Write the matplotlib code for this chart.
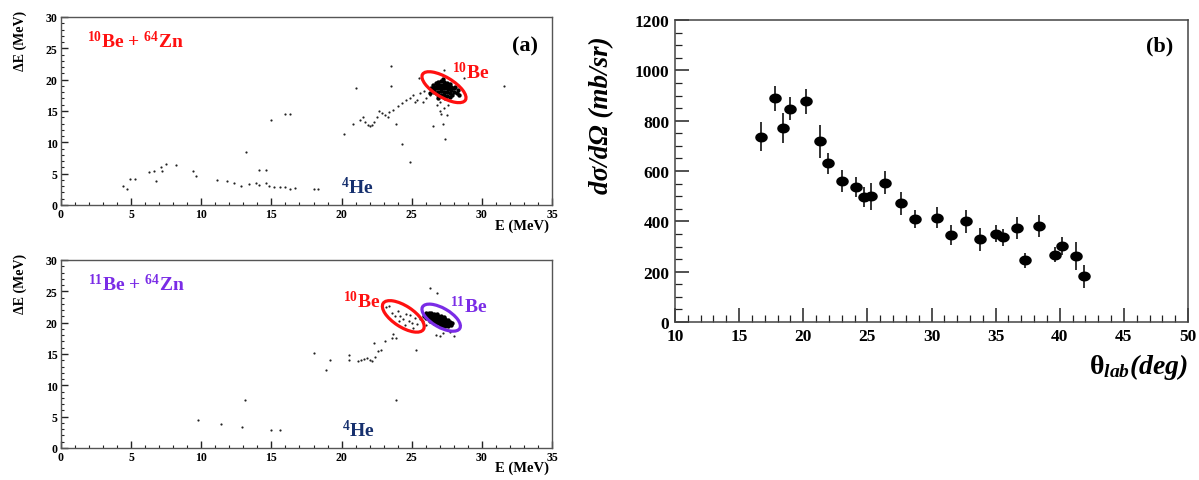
import numpy as np
import matplotlib
matplotlib.use("Agg")
import matplotlib.pyplot as plt
from matplotlib.patches import Ellipse
from matplotlib.path import Path
from matplotlib.transforms import ScaledTranslation
from matplotlib.ticker import MultipleLocator

plt.rcParams['font.family'] = ['Liberation Serif', 'DejaVu Serif']
plt.rcParams['font.weight'] = 'bold'
plt.rcParams['mathtext.default'] = 'regular'
plt.rcParams['mathtext.fontset'] = 'custom'
plt.rcParams['mathtext.rm'] = 'Liberation Serif'

# ---------------- data ----------------
# (a) top: 10Be + 64Zn, sparse events (E, dE) in MeV
top_sparse = [(4.4,3.0),(4.7,2.5),(4.9,4.1),(5.3,4.2),(6.3,5.3),(6.6,5.5),(6.8,3.9),(7.1,6.1),(7.2,5.4),(7.5,6.6),
              (8.2,6.4),(9.4,5.4),(9.6,4.7),(11.1,4.0),(11.8,3.9),(12.3,3.5),(12.8,3.0),(13.2,8.4),(13.4,3.4),(13.9,3.5),
              (14.1,5.6),(14.1,3.2),(14.6,5.6),(14.6,3.5),(14.8,3.1),(15.2,2.8),(15.6,2.8),(16.0,2.8),(16.3,2.6),(16.7,2.7),
              (18.0,2.5),(18.3,2.6),(15.0,13.5),(16.0,14.5),(16.3,14.5),
              (20.2,11.3),(21.0,18.6),(20.8,13.0),(21.3,13.5),(21.5,14.0),(21.7,13.2),(21.9,12.8),(22.0,12.6),(22.2,12.7),(22.3,13.3),
              (22.5,14.0),(22.7,15.0),(22.9,14.7),(23.1,14.3),(23.3,14.0),(23.4,14.8),(23.5,19.0),(23.5,22.2),(23.7,15.2),(23.9,13.0),
              (24.0,15.8),(24.3,9.8),(24.3,16.3),(24.6,16.7),(24.9,6.9),(24.9,17.0),(25.1,17.5),(25.2,16.5),(25.4,16.8),(25.5,20.2),
              (25.6,17.8),(25.8,16.5),(25.9,18.2),(26.0,17.0),(26.3,17.5),(26.5,12.6),(26.5,17.8),
              (26.8,15.9),(27.0,15.0),(27.1,14.6),(27.3,15.5),(27.2,13.0),(27.5,14.4),(27.4,10.5),(27.0,16.5),(27.6,16.0),
              (27.3,21.6),(28.7,20.2),(31.6,19.0)]
# (a) top: dense 10Be locus
top_cluster = [(26.7,19.4),(26.9,19.6),(27.1,19.8),(27.3,19.7),(27.5,19.5),(27.7,19.3),
               (26.6,18.9),(26.8,19.1),(27.0,19.2),(27.2,19.2),(27.4,19.1),(27.6,19.0),(27.8,18.8),(28.0,18.6),
               (26.6,18.4),(26.8,18.6),(27.0,18.7),(27.2,18.7),(27.4,18.6),(27.6,18.5),(27.8,18.3),(28.0,18.1),(28.2,17.9),
               (26.7,17.9),(26.9,18.1),(27.1,18.2),(27.3,18.1),(27.5,18.0),(27.7,17.8),(27.9,17.6),
               (26.9,17.5),(27.1,17.6),(27.3,17.5),(27.5,17.4),(27.7,17.3),
               (26.5,19.1),(26.4,18.6),(28.1,18.9),(28.3,18.3),(27.2,20.1),(26.9,17.0),(27.4,17.0),(26.3,17.9),(28.4,17.6)]

# (a) bottom: 11Be + 64Zn, sparse events
bot_sparse = [(9.8,4.4),(11.4,3.9),(12.9,3.4),(13.1,7.7),(15.0,2.9),(15.6,2.9),(18.0,15.1),(18.9,12.5),(19.2,14.1),
              (20.5,14.9),(20.5,14.1),(21.2,13.9),(21.4,14.0),(21.6,14.2),(21.8,14.4),(22.0,14.0),(22.2,13.9),(22.3,16.8),
              (22.4,14.5),(22.6,15.4),(22.8,15.6),(23.1,17.0),(23.6,17.6),(23.7,18.2),(23.9,17.5),(23.9,7.6),(23.2,22.5),
              (23.4,22.6),(23.6,21.5),(24.0,21.8),(24.2,21.0),(24.4,20.6),(24.6,21.4),(24.8,20.3),(25.0,20.0),(24.9,21.3),
              (25.2,20.8),(25.4,19.8),(25.3,15.7),(25.6,20.6),(25.8,20.2),(26.0,19.7),(24.1,20.2),(24.5,19.6),(25.1,19.2),
              (23.8,21.0),(26.3,25.6),(26.8,24.8),(27.0,17.8),(26.7,18.0),(27.2,18.3),(28.0,17.8),(27.7,18.5)]
# (a) bottom: dense 11Be locus
bot_cluster = [(26.0,21.5),(26.2,21.5),(26.4,21.5),(26.6,21.4),(26.8,21.4),
               (25.9,21.1),(26.1,21.1),(26.3,21.1),(26.5,21.1),(26.7,21.1),(26.9,21.0),(27.1,21.0),(27.3,20.9),
               (26.0,20.7),(26.2,20.7),(26.4,20.7),(26.6,20.7),(26.8,20.7),(27.0,20.7),(27.2,20.6),(27.4,20.6),(27.6,20.5),
               (26.3,20.3),(26.5,20.3),(26.7,20.3),(26.9,20.3),(27.1,20.3),(27.3,20.3),(27.5,20.2),(27.7,20.1),(27.9,20.0),
               (26.6,19.9),(26.8,19.9),(27.0,19.9),(27.2,19.9),(27.4,19.8),(27.6,19.8),(27.8,19.7),
               (27.0,19.5),(27.2,19.5),(27.4,19.4),(27.6,19.4)]

# (b) angular distribution
theta_lab = [16.7,17.8,18.4,19.0,20.2,21.3,21.9,23.0,24.1,24.7,25.3,26.4,27.6,28.7,
             30.4,31.5,32.7,33.8,35.0,35.6,36.7,37.3,38.4,39.6,40.2,41.3,41.9]
dsigma = [737,889,771,848,877,718,630,560,536,496,499,554,472,410,
          415,344,400,329,351,336,373,245,381,267,303,261,181]
dsigma_err = [57,50,60,45,50,65,40,45,40,40,55,45,45,35,
              40,40,45,45,35,35,45,30,45,30,35,55,45]

E_ticks = [0, 5, 10, 15, 20, 25, 30, 35]
dE_ticks = [0, 5, 10, 15, 20, 25, 30]
theta_ticks = [10, 15, 20, 25, 30, 35, 40, 45, 50]
sigma_ticks = [0, 200, 400, 600, 800, 1000, 1200]

RED = '#ff1010'
PURPLE = '#7a2ce6'
NAVY = '#16306e'

W, H = 1199, 481
fig = plt.figure(figsize=(W/100, H/100), dpi=100)


def px_axes(l, t, r, b):
    return fig.add_axes([l/W, 1-b/H, (r-l)/W, (b-t)/H])


def style_left(ax):
    ax.set_xlim(E_ticks[0], E_ticks[-1])
    ax.set_ylim(dE_ticks[0], dE_ticks[-1])
    ax.set_xticks(E_ticks)
    ax.set_yticks(dE_ticks)
    ax.xaxis.set_minor_locator(MultipleLocator(1))
    ax.yaxis.set_minor_locator(MultipleLocator(1))
    ax.tick_params(which='both', direction='in', top=False, right=False,
                   labelsize=8.5, pad=2.5, color='#222222')
    ax.tick_params(which='major', length=5, width=1)
    ax.tick_params(which='minor', length=2.5, width=0.8)
    for s in ax.spines.values():
        s.set_color('#555555')
        s.set_linewidth(1)
    for lab in ax.get_xticklabels() + ax.get_yticklabels():
        lab.set_fontweight('bold')


def add_ellipse(ax, cx, cy, w_px, h_px, ang, color):
    tr = fig.dpi_scale_trans + ScaledTranslation(cx, cy, ax.transData)
    ax.add_patch(Ellipse((0, 0), w_px/100, h_px/100, angle=ang, transform=tr,
                         fill=False, ec=color, lw=2.3, zorder=5))


# ---- top left
ax1 = px_axes(61, 18, 552, 206)
style_left(ax1)
sp = np.array(top_sparse)
ax1.scatter(sp[:, 0], sp[:, 1], s=2.5, c='#222222', linewidths=0)
cl = np.array(top_cluster)
ax1.scatter(cl[:, 0], cl[:, 1], s=10, c='black', linewidths=0)
add_ellipse(ax1, 27.3, 18.8, 50, 20, -31, RED)
ax1.text(1.85, 26.2, r'$^{10}$Be + $^{64}$Zn', color=RED, fontsize=14, fontweight='bold', va='center', ha='left')
ax1.text(33.1, 25.4, '(a)', color='black', fontsize=16, fontweight='bold', va='center', ha='center')
ax1.text(27.9, 21.3, r'$^{10}$Be', color=RED, fontsize=14, fontweight='bold', va='center', ha='left')
ax1.text(19.96, 3.0, r'$^{4}$He', color=NAVY, fontsize=14, fontweight='bold', va='center', ha='left')

# ---- bottom left
ax2 = px_axes(61, 261, 552, 449)
style_left(ax2)
sp = np.array(bot_sparse)
ax2.scatter(sp[:, 0], sp[:, 1], s=2.5, c='#222222', linewidths=0)
cl = np.array(bot_cluster)
ax2.scatter(cl[:, 0], cl[:, 1], s=10, c='black', linewidths=0)
add_ellipse(ax2, 24.4, 21.0, 48, 21, -33, RED)
add_ellipse(ax2, 27.1, 20.8, 43, 19, -30, PURPLE)
ax2.text(1.9, 26.2, r'$^{11}$Be + $^{64}$Zn', color=PURPLE, fontsize=14, fontweight='bold', va='center', ha='left')
ax2.text(20.1, 23.6, r'$^{10}$Be', color=RED, fontsize=14, fontweight='bold', va='center', ha='left')
ax2.text(27.7, 22.7, r'$^{11}$Be', color=PURPLE, fontsize=14, fontweight='bold', va='center', ha='left')
ax2.text(20.0, 3.0, r'$^{4}$He', color=NAVY, fontsize=14, fontweight='bold', va='center', ha='left')

# axis labels of left panels
for ytop, ybot in [(11, 226), (254, 468)]:
    fig.text(20/W, 1-ytop/H, '\u0394E (MeV)', rotation=90, fontsize=10, fontweight='bold',
             ha='center', va='top')
    fig.text(549/W, 1-ybot/H, 'E (MeV)', fontsize=10.5, fontweight='bold', ha='right', va='center')

# ---- right panel
ax3 = px_axes(675, 21, 1188, 323)
ax3.set_xlim(theta_ticks[0], theta_ticks[-1])
ax3.set_ylim(sigma_ticks[0], sigma_ticks[-1])
ax3.set_xticks(theta_ticks)
ax3.set_yticks(sigma_ticks)
ax3.xaxis.set_minor_locator(MultipleLocator(1))
ax3.yaxis.set_minor_locator(MultipleLocator(50))
ax3.tick_params(which='both', direction='in', top=False, right=False, labelsize=12.5, pad=4, color='#222222')
ax3.tick_params(which='major', length=10, width=1.1)
ax3.tick_params(which='minor', length=5, width=0.9)
for s in ax3.spines.values():
    s.set_color('#444444')
    s.set_linewidth(1.1)
for lab in ax3.get_xticklabels() + ax3.get_yticklabels():
    lab.set_fontweight('bold')

t = np.linspace(0, 2*np.pi, 60)
ell_marker = Path(np.column_stack([0.65*np.cos(t), 0.5*np.sin(t)]), closed=True)
ax3.errorbar(theta_lab, dsigma, yerr=dsigma_err, fmt='none',
             ecolor='#333333', elinewidth=1.4, capsize=0, zorder=2)
ax3.plot(theta_lab, dsigma, linestyle='none', marker=ell_marker, markersize=8,
         color='black', zorder=3)
ax3.text(47.8, 1100, '(b)', fontsize=16, fontweight='bold', ha='center', va='center')

fig.text(602/W, 1-115/H, 'd\u03c3/d\u03a9 (mb/sr)', rotation=90, fontsize=19.5,
         fontweight='bold', fontstyle='italic', ha='center', va='center')
fig.text(1188/W, 1-367/H, '$\\mathrm{\u03b8}_{lab}$(deg)', fontsize=20, fontweight='bold',
         fontstyle='italic', ha='right', va='center')

fig.savefig('out.png', dpi=100)
